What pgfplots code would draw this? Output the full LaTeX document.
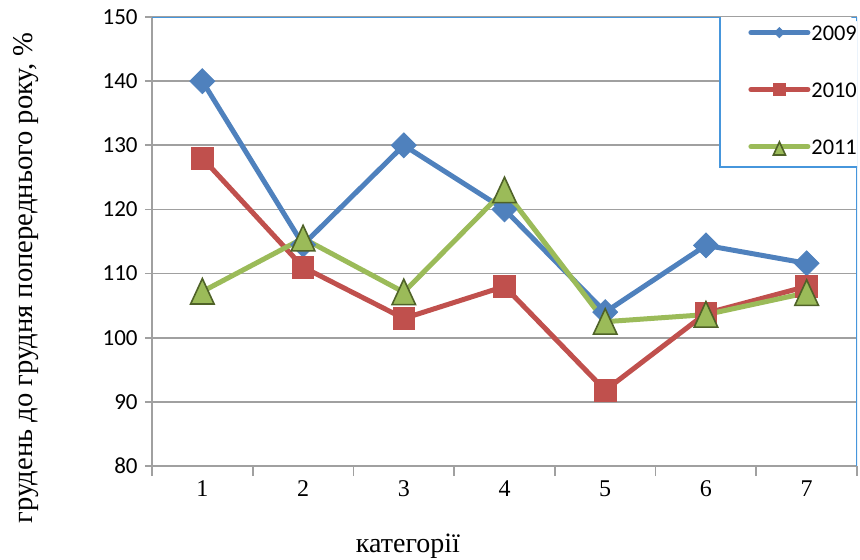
\documentclass[border=0pt]{standalone}
\usepackage{fontspec}
\setmainfont{Liberation Serif}
\newfontfamily\carlito{Carlito}
\usepackage{pgfplots}
\pgfplotsset{compat=1.18}
\definecolor{c09}{RGB}{79,129,189}
\definecolor{c10}{RGB}{192,80,77}
\definecolor{c11}{RGB}{155,187,89}
\definecolor{c11d}{RGB}{79,98,40}
\definecolor{gridc}{RGB}{160,160,160}
\definecolor{bord}{RGB}{70,150,220}
\begin{document}
\begin{tikzpicture}
\useasboundingbox (-76pt,-46.5pt) rectangle (354pt,233pt);
\clip (-76pt,-46.5pt) rectangle (354pt,233pt);
\begin{axis}[
  scale only axis, width=352.5pt, height=224.5pt,
  xmin=0.5, xmax=7.5, ymin=80, ymax=150,
  axis x line=bottom, axis y line=left,
  axis line style={-, draw=gridc, line width=0.8pt},
  xtick={1,2,3,4,5,6,7}, xticklabels={1,2,3,4,5,6,7},
  major x tick style={draw=none},
  minor xtick={0.5,1.5,2.5,3.5,4.5,5.5,6.5,7.5},
  minor tick length=5pt, major tick length=3.5pt,
  tick align=outside,
  tick style={draw=gridc, line width=0.8pt},
  ytick={80,90,100,110,120,130,140,150},
  ymajorgrids, major grid style={draw=gridc, line width=0.8pt},
  /pgf/number format/assume math mode=true,
  yticklabel style={font=\carlito\fontsize{11.5}{12}\selectfont, inner sep=0pt, xshift=-3.5pt},
  xticklabel style={font=\fontsize{12}{12}\selectfont, inner sep=0pt, yshift=-3.5pt},
  xlabel={категорії},
  ylabel={грудень до грудня попереднього року, \%},
  xlabel style={font=\fontsize{14}{15}\selectfont, at={(rel axis cs:0.363,-0.178)}, anchor=center},
  ylabel style={font=\fontsize{14.3}{15}\selectfont, at={(rel axis cs:-0.178,0.419)}, anchor=center, rotate=0},
  legend image code/.code={\draw[#1, line cap=round, mark repeat=2, mark phase=2] plot coordinates {(0pt,0pt) (14.25pt,0pt) (28.5pt,0pt)};},
  legend style={at={(rel axis cs:0.8057,0.6659)}, anchor=south west, draw=none, fill=none,
    inner xsep=14pt, inner ysep=5.8pt, row sep=20.5pt,
    font=\carlito\fontsize{11.2}{12}\selectfont,
    nodes={inner sep=0pt, text height=8pt, text depth=0pt}, column sep=0.5pt},
  legend cell align=left,
]
\draw[draw=bord, line width=0.6pt] (rel axis cs:0,1) -- (rel axis cs:1,1) -- (rel axis cs:1,0);
\draw[draw=bord, fill=white, line width=0.8pt] (rel axis cs:0.8057,1.2) -- (rel axis cs:0.8057,0.6659) -- (rel axis cs:1.3,0.6659);
\addplot[c09, line width=2.5pt, mark=square*, mark size=4.4pt,
  mark options={rotate=45, fill=c09, draw=c09, line width=0.4pt},
  legend image post style={mark size=1.8pt}]
  coordinates {(1,140) (2,114.5) (3,130) (4,120) (5,104) (6,114.4) (7,111.6)};
\addlegendentry{2009}
\addplot[c10, line width=2.5pt, mark=square*, mark size=5.4pt,
  mark options={fill=c10, draw=c10, line width=0.4pt},
  legend image post style={mark size=3pt}]
  coordinates {(1,128) (2,111) (3,103) (4,108) (5,91.8) (6,103.8) (7,108)};
\addlegendentry{2010}
\addplot[c11, line width=2.5pt, mark=triangle*, mark size=6.8pt,
  mark options={fill=c11, draw=c11d, line width=0.8pt, yshift=-2pt, yscale=1.25},
  legend image post style={mark size=3.5pt}]
  coordinates {(1,107.2) (2,115.5) (3,107.1) (4,123) (5,102.5) (6,103.6) (7,107)};
\addlegendentry{2011}
\end{axis}
\end{tikzpicture}
\end{document}
